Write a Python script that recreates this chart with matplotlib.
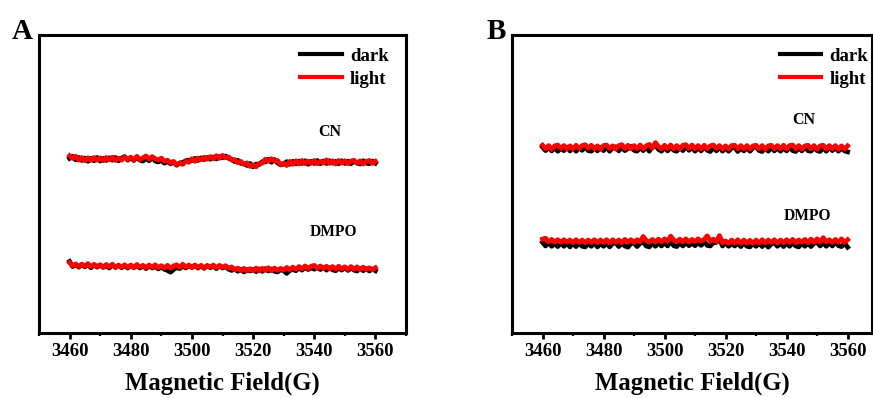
import numpy as np
import matplotlib
matplotlib.use("Agg")
import matplotlib.pyplot as plt

# ---- data -------------------------------------------------------------
field = list(range(3460, 3561))  # Magnetic field (G), 1 G step

a_cn_light = [
    59.5, 58.6, 59.3, 58.0, 58.9, 57.8, 58.8, 57.9, 58.9, 58.0,
    58.8, 57.8, 58.9, 58.1, 59.0, 57.9, 58.7, 58.0, 59.1, 58.2,
    59.0, 58.1, 59.3, 58.2, 58.8, 59.4, 58.3, 59.2, 58.5, 58.0,
    58.7, 57.6, 58.0, 57.1, 57.6, 56.5, 57.0, 56.6, 57.6, 57.3,
    58.5, 57.6, 58.7, 58.1, 59.0, 58.3, 59.2, 58.4, 59.5, 58.6,
    59.6, 58.8, 59.1, 58.0, 58.2, 57.1, 57.6, 56.6, 57.1, 55.9,
    56.4, 55.8, 56.9, 57.0, 58.3, 57.6, 58.5, 57.7, 57.9, 56.5,
    57.0, 56.2, 57.6, 56.6, 57.8, 56.7, 57.9, 56.8, 57.7, 56.9,
    57.9, 56.8, 57.6, 57.0, 58.1, 56.9, 57.8, 56.7, 57.9, 57.0,
    57.8, 56.8, 57.7, 58.0, 56.9, 57.8, 56.7, 57.6, 57.9, 56.9, 57.6]
a_cn_dark = [
    58.6, 59.3, 58.1, 58.9, 57.9, 58.7, 57.6, 58.6, 57.8, 58.9,
    57.7, 58.6, 57.9, 58.8, 58.0, 58.9, 57.8, 58.7, 59.2, 58.0,
    58.8, 57.9, 58.9, 58.0, 57.7, 58.6, 57.8, 58.9, 57.7, 57.4,
    57.9, 57.0, 57.5, 56.8, 57.3, 56.3, 57.1, 57.2, 57.8, 58.0,
    57.8, 58.6, 57.9, 58.8, 58.2, 58.9, 58.3, 59.1, 58.4, 59.2,
    58.8, 59.4, 58.6, 58.3, 57.5, 58.0, 56.9, 56.8, 56.2, 56.9,
    55.8, 56.7, 56.5, 57.5, 57.4, 58.3, 57.3, 58.2, 57.1, 56.4,
    56.7, 57.5, 56.6, 57.6, 56.8, 57.7, 56.9, 57.8, 56.6, 57.6,
    56.9, 57.9, 56.8, 57.7, 56.9, 57.8, 57.0, 57.6, 56.8, 57.8,
    56.9, 57.7, 56.8, 57.6, 57.1, 56.7, 57.8, 57.0, 56.8, 57.7, 57.0]
a_dmpo_light = [
    23.6, 22.5, 23.2, 22.3, 23.1, 22.4, 23.3, 22.2, 23.0, 22.3,
    22.9, 22.1, 23.0, 22.2, 23.1, 22.0, 22.8, 22.1, 22.9, 22.0,
    22.8, 22.0, 23.0, 22.1, 22.7, 21.9, 22.8, 22.0, 22.9, 21.9,
    22.6, 21.8, 22.7, 21.7, 22.5, 22.9, 22.0, 23.1, 22.1, 22.8,
    21.9, 22.8, 22.0, 22.7, 21.8, 22.6, 22.1, 22.8, 21.9, 22.7,
    22.0, 22.6, 21.7, 22.2, 21.2, 21.8, 20.9, 21.7, 20.8, 21.6,
    20.9, 21.8, 20.8, 21.7, 21.0, 21.9, 20.9, 21.8, 21.0, 21.7,
    21.1, 22.0, 21.2, 22.1, 21.4, 22.3, 21.5, 22.5, 21.6, 22.4,
    22.7, 21.7, 22.5, 21.6, 22.4, 21.5, 22.3, 21.4, 22.4, 21.5,
    22.2, 21.3, 22.3, 21.4, 22.2, 21.2, 22.1, 21.3, 21.9, 21.2, 21.9]
a_dmpo_dark = [
    24.0, 22.3, 22.9, 22.1, 23.0, 22.2, 22.8, 21.9, 22.9, 22.1,
    22.8, 22.0, 22.6, 21.8, 22.9, 22.0, 22.7, 21.9, 22.6, 21.8,
    22.7, 21.9, 22.6, 21.8, 22.5, 21.6, 22.6, 21.8, 22.3, 21.5,
    22.2, 21.4, 21.0, 20.4, 21.3, 22.0, 21.6, 22.5, 21.8, 22.6,
    22.0, 22.7, 21.8, 22.5, 21.7, 22.6, 21.9, 22.4, 21.6, 22.5,
    21.8, 22.3, 21.4, 21.0, 21.5, 20.7, 21.4, 20.5, 21.3, 20.8,
    21.4, 20.6, 21.5, 20.7, 21.6, 20.8, 21.5, 20.7, 20.5, 21.2,
    20.9, 20.0, 21.0, 21.3, 20.9, 21.8, 21.1, 22.0, 21.3, 21.9,
    21.4, 22.1, 21.3, 22.0, 21.1, 21.9, 21.2, 20.9, 21.8, 21.1,
    21.9, 21.0, 21.8, 21.1, 20.8, 21.7, 20.9, 21.6, 20.8, 21.5, 20.9]

b_cn_light = [
    63.0, 61.8, 62.9, 61.6, 62.8, 63.1, 61.9, 62.9, 61.7, 62.8,
    61.8, 63.0, 61.9, 62.9, 63.2, 62.0, 63.0, 61.8, 62.8, 61.6,
    62.9, 63.1, 61.9, 62.8, 61.7, 62.9, 63.2, 61.9, 63.0, 61.8,
    62.9, 61.9, 63.1, 61.8, 62.8, 63.3, 62.0, 63.9, 62.6, 61.8,
    63.0, 61.9, 63.1, 61.8, 62.9, 61.7, 63.0, 63.2, 61.9, 63.1,
    61.8, 62.9, 61.7, 63.0, 61.8, 62.8, 63.1, 61.9, 62.9, 61.7,
    62.8, 61.7, 62.9, 63.0, 61.8, 62.9, 61.8, 62.9, 61.7, 62.8,
    63.0, 61.8, 62.9, 61.6, 62.8, 63.0, 61.8, 62.9, 61.8, 63.0,
    61.7, 62.9, 63.1, 61.8, 62.9, 61.7, 62.8, 63.0, 61.8, 62.9,
    61.6, 62.8, 63.0, 61.7, 62.9, 61.8, 62.9, 61.6, 62.8, 61.7, 62.8]
b_cn_dark = [
    62.4, 61.2, 62.3, 61.1, 62.2, 61.0, 61.9, 61.2, 62.4, 61.1,
    62.3, 61.0, 62.2, 61.3, 62.5, 61.2, 61.0, 62.2, 61.1, 62.3,
    61.2, 62.4, 61.0, 62.2, 62.5, 61.1, 62.3, 61.2, 61.9, 62.6,
    61.3, 61.0, 62.3, 61.2, 62.4, 61.0, 62.6, 63.2, 61.6, 61.0,
    62.3, 61.1, 62.5, 61.3, 61.0, 62.3, 61.2, 62.6, 61.3, 62.4,
    61.0, 62.3, 61.1, 62.6, 61.3, 60.9, 62.3, 61.1, 62.4, 61.0,
    62.2, 61.0, 62.1, 62.4, 60.9, 62.1, 61.1, 62.3, 61.0, 62.2,
    62.5, 61.2, 60.9, 62.1, 61.0, 62.3, 61.1, 62.2, 61.0, 62.1,
    61.1, 62.3, 61.2, 60.9, 62.2, 61.1, 62.4, 61.2, 61.0, 62.3,
    61.2, 60.9, 62.2, 61.0, 62.4, 61.2, 62.2, 61.0, 62.1, 61.1, 60.8]
b_dmpo_light = [
    31.5, 31.8, 30.6, 31.4, 30.5, 31.3, 30.4, 31.3, 30.5, 31.2,
    30.3, 31.3, 30.4, 31.2, 30.3, 31.2, 30.4, 31.3, 30.3, 31.2,
    30.4, 31.3, 30.2, 31.3, 30.4, 31.2, 30.3, 31.4, 30.5, 31.3,
    30.4, 31.3, 30.6, 32.4, 31.0, 30.5, 31.4, 30.5, 31.5, 30.6,
    31.6, 30.7, 32.5, 31.2, 30.6, 31.5, 30.6, 31.6, 30.5, 31.4,
    30.7, 31.6, 30.8, 31.4, 32.6, 30.8, 31.5, 30.6, 32.7, 30.3,
    30.9, 30.1, 31.2, 30.2, 31.3, 30.1, 31.2, 30.2, 31.1, 30.1,
    31.2, 30.2, 31.3, 30.3, 31.2, 30.4, 31.3, 30.2, 31.2, 30.3,
    31.3, 30.4, 31.4, 30.3, 31.2, 30.5, 31.4, 30.3, 31.5, 30.4,
    31.6, 30.5, 32.0, 30.6, 31.3, 30.4, 31.4, 30.5, 31.6, 30.4, 31.3]
b_dmpo_dark = [
    30.4, 29.2, 30.3, 29.1, 30.0, 29.0, 30.2, 29.1, 30.1, 28.9,
    30.1, 29.0, 30.2, 29.1, 28.9, 30.0, 29.1, 30.2, 28.9, 30.0,
    29.1, 30.1, 28.9, 30.0, 30.3, 29.0, 30.1, 29.2, 28.8, 30.0,
    30.2, 29.0, 30.1, 30.6, 29.2, 28.9, 30.1, 29.1, 30.3, 29.2,
    30.4, 29.2, 30.8, 29.3, 29.0, 30.2, 29.2, 30.4, 29.3, 30.1,
    29.3, 30.5, 29.4, 30.7, 29.4, 29.2, 30.3, 30.4, 31.6, 29.2,
    30.4, 29.1, 30.0, 29.2, 30.1, 29.0, 30.2, 29.1, 28.9, 30.0,
    29.1, 30.2, 29.0, 30.1, 28.8, 29.9, 30.3, 29.1, 30.1, 29.0,
    30.2, 29.1, 30.3, 29.2, 28.9, 30.1, 29.1, 30.2, 29.0, 30.1,
    30.4, 29.2, 30.3, 29.1, 30.2, 29.2, 30.5, 29.3, 29.0, 30.1, 28.8]

xticks = [3460, 3480, 3500, 3520, 3540, 3560]
series_labels = ["dark", "light"]
panel_letters = ["A", "B"]

# ---- figure -----------------------------------------------------------
W, H = 873, 398
fig = plt.figure(figsize=(W / 100, H / 100), dpi=100)
plt.rcParams['font.family'] = ['Liberation Serif', 'DejaVu Serif']
plt.rcParams['font.weight'] = 'bold'

def px_axes(l, r, t, b):
    return fig.add_axes([l / W, (H - b) / H, (r - l) / W, (b - t) / H])

axA = px_axes(39, 406, 35, 333)
axB = px_axes(512, 872, 35, 333)

panels = [
    (axA, (3450, 3570), a_cn_dark, a_cn_light, a_dmpo_dark, a_dmpo_light,
     (0.793, 0.674), (0.801, 0.339), (0.953, 0.957), (12, 39)),
    (axB, (3450, 3568), b_cn_dark, b_cn_light, b_dmpo_dark, b_dmpo_light,
     (0.811, 0.715), (0.822, 0.393), (0.990, 0.957), (487, 39)),
]

LW = 3.4
for i, (ax, xl, cnd, cnl, dmd, dml, cnpos, dmpos, legpos, letpos) in enumerate(panels):
    l1, = ax.plot(field, cnd, color='black', lw=LW, solid_joinstyle='round')
    ax.plot(field, dmd, color='black', lw=LW, solid_joinstyle='round')
    l2, = ax.plot(field, cnl, color='#ff0000', lw=LW, solid_joinstyle='round')
    ax.plot(field, dml, color='#ff0000', lw=LW, solid_joinstyle='round')
    ax.set_xlim(*xl)
    ax.set_ylim(0, 100)
    ax.set_yticks([])
    ax.set_xticks(xticks)
    ax.set_xticks(np.arange(3450, xl[1] + 0.1, 10), minor=True)
    ax.tick_params(axis='x', which='major', direction='out', length=4.5, width=2.0,
                   labelsize=13.5, pad=3)
    ax.tick_params(axis='x', which='minor', direction='out', length=2.5, width=1.6)
    for lab in ax.get_xticklabels():
        lab.set_fontweight('bold')
    for s in ax.spines.values():
        s.set_linewidth(2.2)
    ax.set_xlabel("Magnetic Field(G)", fontsize=17.8, fontweight='bold', labelpad=8)
    ax.text(*cnpos, "CN", transform=ax.transAxes, ha='center', va='center',
            fontsize=11.5, fontweight='bold')
    ax.text(*dmpos, "DMPO", transform=ax.transAxes, ha='center', va='center',
            fontsize=11.2, fontweight='bold')
    leg = ax.legend([l1, l2], series_labels, loc='upper right', bbox_to_anchor=legpos,
                    frameon=False, handlelength=2.2, handletextpad=0.45,
                    labelspacing=0.3, borderpad=0, borderaxespad=0,
                    prop={'weight': 'bold', 'size': 13.5})
    for h in leg.get_lines():
        h.set_linewidth(3.0)
    fig.text(letpos[0] / W, (H - letpos[1]) / H, panel_letters[i], fontsize=21,
             fontweight='bold', ha='left', va='baseline')

fig.savefig("out.png", dpi=100)
